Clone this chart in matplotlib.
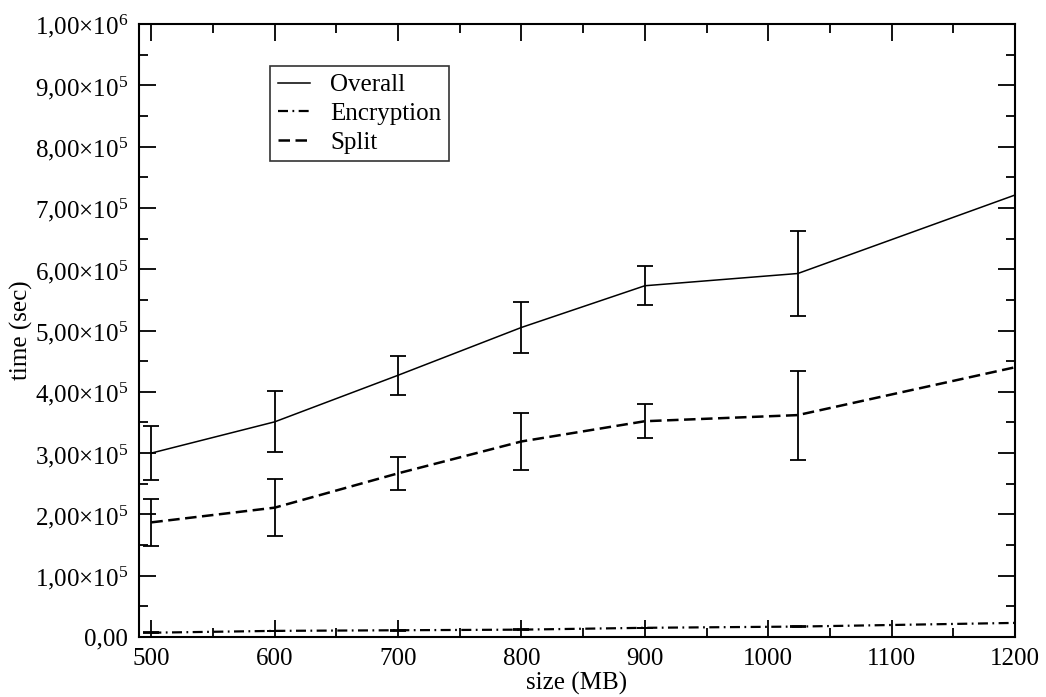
import matplotlib
matplotlib.use("Agg")
import matplotlib.pyplot as plt
from matplotlib.ticker import FuncFormatter, MultipleLocator

plt.rcParams["font.family"] = ["Liberation Serif", "DejaVu Serif"]
plt.rcParams["mathtext.fontset"] = "custom"
plt.rcParams["mathtext.rm"] = "Liberation Serif"
plt.rcParams["mathtext.it"] = "Liberation Serif:italic"

sizes = [500, 600, 700, 800, 900, 1024, 1200]
overall = [3.00e5, 3.51e5, 4.27e5, 5.05e5, 5.73e5, 5.93e5, 7.21e5]
overall_err = [0.44e5, 0.50e5, 0.32e5, 0.41e5, 0.32e5, 0.70e5, 0.0]
encryption = [0.07e5, 0.10e5, 0.11e5, 0.12e5, 0.15e5, 0.17e5, 0.23e5]
encryption_err = [0.004e5, 0.004e5, 0.004e5, 0.004e5, 0.004e5, 0.004e5, 0.0]
split = [1.87e5, 2.11e5, 2.67e5, 3.19e5, 3.52e5, 3.62e5, 4.40e5]
split_err = [0.38e5, 0.465e5, 0.265e5, 0.465e5, 0.28e5, 0.725e5, 0.0]


def sci_fmt(v, pos):
    if abs(v) < 1:
        return "0,00"
    exp = 0
    m = v
    while abs(m) >= 10:
        m /= 10
        exp += 1
    return f"{m:.2f}".replace(".", ",") + r"$\times$10$^{%d}$" % exp


fs = 18
fig = plt.figure(figsize=(10.46, 6.97), dpi=100)
ax = fig.add_axes([139 / 1046, 1 - 637 / 697, 876 / 1046, 613 / 697])

cap = 5.8
ax.errorbar(sizes[:-1], overall[:-1], yerr=overall_err[:-1], fmt="none",
            ecolor="black", elinewidth=1.3, capsize=cap, capthick=1.3)
ax.errorbar(sizes[:-1], split[:-1], yerr=split_err[:-1], fmt="none",
            ecolor="black", elinewidth=1.3, capsize=cap, capthick=1.3)
ax.errorbar(sizes[:-1], encryption[:-1], yerr=encryption_err[:-1], fmt="none",
            ecolor="black", elinewidth=1.3, capsize=cap, capthick=1.3)

ax.plot(sizes, overall, color="black", lw=1.1, label="Overall")
ax.plot(sizes, encryption, color="black", lw=1.6,
        linestyle=(0, (4.5, 2, 0.8, 2)), label="Encryption")
ax.plot(sizes, split, color="black", lw=1.8,
        linestyle=(0, (4.6, 2.2)), label="Split")

ax.set_xlim(490, 1200)
ax.set_ylim(0, 1e6)
ax.xaxis.set_major_locator(MultipleLocator(100))
ax.xaxis.set_minor_locator(MultipleLocator(50))
ax.yaxis.set_major_locator(MultipleLocator(1e5))
ax.yaxis.set_minor_locator(MultipleLocator(5e4))
ax.yaxis.set_major_formatter(FuncFormatter(sci_fmt))

ax.tick_params(which="both", direction="in", top=True, right=True,
               width=1.3, labelsize=fs, colors="black")
ax.tick_params(which="major", length=12.5)
ax.tick_params(which="minor", length=6.5)
ax.tick_params(axis="x", which="major", pad=8)
ax.tick_params(axis="y", which="major", pad=8)
for s in ax.spines.values():
    s.set_linewidth(1.5)

ax.set_xlabel("size (MB)", fontsize=fs, labelpad=1)
ax.set_ylabel("time (sec)", fontsize=fs)
ax.yaxis.set_label_coords(-0.121, 0.5)

leg = ax.legend(loc="upper left", bbox_to_anchor=(0.150, 0.931),
                fontsize=fs, frameon=True, fancybox=False,
                handlelength=1.3, handletextpad=0.8, borderpad=0.3,
                labelspacing=0.25, borderaxespad=0)
leg.get_frame().set_edgecolor("black")
leg.get_frame().set_linewidth(1.2)

fig.savefig("out.png", dpi=100)
